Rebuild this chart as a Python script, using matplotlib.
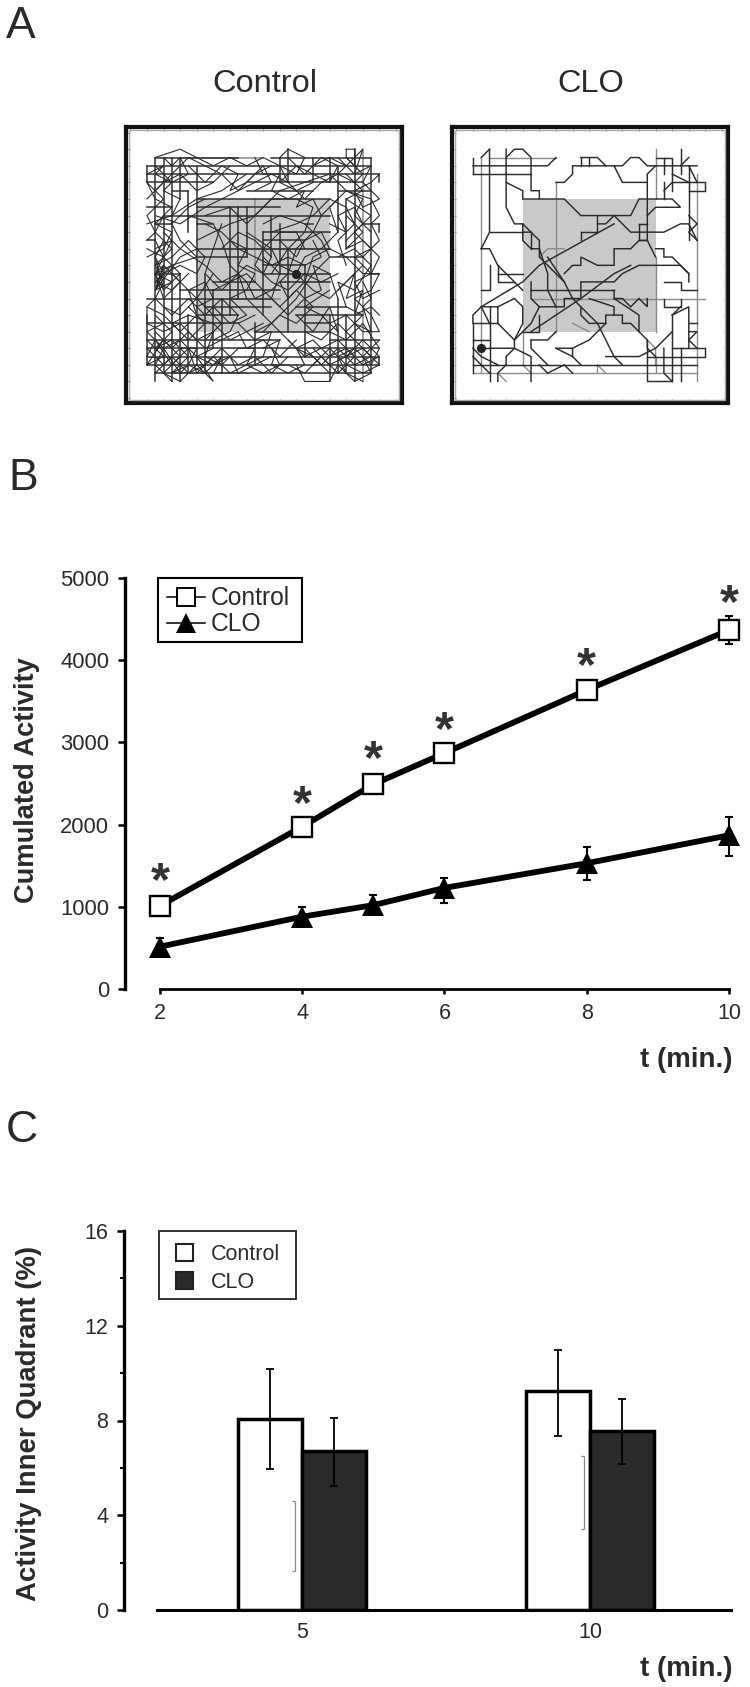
import matplotlib
matplotlib.use("Agg")
import matplotlib.pyplot as plt
from matplotlib.lines import Line2D
from matplotlib.patches import Patch, Rectangle

plt.rcParams['font.family'] = ['Liberation Sans', 'DejaVu Sans']

W, H = 750, 1687
TEXT = '#2a2a2a'

# panel B
times_b = [2, 4, 5, 6, 8, 10]
control_activity = [1013, 1975, 2490, 2870, 3637, 4367]
clo_activity = [515, 880, 1020, 1230, 1530, 1870]
control_err = [40, 50, 60, 70, 70, 170]
clo_err_up = [100, 120, 120, 125, 200, 220]
clo_err_down = [60, 100, 100, 185, 205, 250]
star_heights = [1411, 2348, 2895, 3248, 4027, 4793]

# panel C
groups_c = [0, 1]
group_labels = ['5', '10']
control_inner = [8.06, 9.24]
clo_inner = [6.71, 7.57]
control_inner_low = [5.95, 7.34]
control_inner_high = [10.17, 10.97]
clo_inner_low = [5.23, 6.16]
clo_inner_high = [8.12, 8.90]
stray_x = [-0.024, 0.979]
stray_low = [1.65, 3.43]
stray_high = [4.60, 6.50]

# panel A, tracks on the 29 x 29 floor grid (column, row)
control_dot = (18, 15)
clo_dot = (1, 24)

# straight runs: (row, first column, last column)
control_rows = [
    (1, 1, 11), (1, 15, 27), (2, 0, 27), (3, 0, 28), (4, 0, 8), (4, 12, 26), (5, 3, 5), (5, 12, 20),
    (6, 6, 22), (7, 0, 3), (7, 6, 16), (8, 2, 22), (9, 6, 8), (9, 19, 20), (9, 26, 28), (11, 0, 1),
    (11, 14, 19), (12, 6, 22), (13, 6, 12), (14, 14, 19), (15, 1, 4), (15, 14, 22), (15, 27, 28),
    (16, 8, 13), (17, 4, 16), (18, 0, 15), (19, 7, 15), (20, 6, 11), (21, 0, 11), (21, 19, 22),
    (22, 13, 22), (23, 0, 16), (23, 22, 28), (24, 0, 28), (25, 0, 28), (26, 0, 28), (27, 1, 27),
    (10, 14, 22), (16, 16, 22), (19, 18, 24), (20, 18, 26), (13, 22, 26), (5, 23, 27), (9, 1, 3),
]
control_cols = [
    (1, 1, 28), (2, 1, 27), (3, 1, 28), (4, 1, 6), (4, 15, 28), (5, 5, 10), (5, 20, 27), (6, 2, 26),
    (7, 15, 27), (8, 17, 24), (10, 7, 20), (11, 7, 18), (14, 10, 20), (15, 8, 13), (17, 0, 4),
    (17, 12, 22), (19, 14, 25), (22, 1, 4), (22, 20, 28), (25, 0, 28), (27, 1, 27), (0, 2, 4),
    (0, 20, 26), (28, 3, 4), (28, 9, 10), (28, 25, 26), (9, 18, 27), (12, 7, 13), (16, 1, 4),
    (20, 1, 4), (23, 2, 10), (23, 18, 27), (24, 20, 27), (13, 21, 26), (16, 9, 15), (24, 6, 12),
]
control_gray_rows = [(12, 8, 20), (1, 4, 14), (18, 10, 16), (27, 3, 12)]
control_gray_cols = [(26, 0, 28), (13, 6, 16)]
control_paths = [
    [(1, 1), (4, 0), (6, 1), (8, 2), (10, 1), (12, 2), (14, 1), (16, 2)],
    [(16, 1), (17, 0), (19, 1), (18, 3), (16, 2), (17, 4)],
    [(24, 0), (25, 0), (25, 2), (24, 1), (24, 0)], [(24, 2), (25, 1), (26, 0), (25, 3)],
    [(20, 2), (22, 1), (24, 2), (23, 3), (25, 4), (26, 3), (24, 1)],
    [(0, 4), (2, 6), (0, 8), (1, 10), (0, 11)], [(0, 6), (2, 4), (4, 3), (6, 5), (8, 4), (10, 2)],
    [(1, 5), (3, 3), (5, 1), (7, 2), (9, 3), (11, 5), (13, 4), (15, 3), (17, 4), (19, 6), (21, 4), (23, 3)],
    [(1, 8), (4, 9), (7, 7), (9, 6), (11, 5), (13, 3), (15, 2)], [(0, 9), (3, 8), (6, 6), (9, 5), (12, 3)],
    [(1, 11), (2, 13), (0, 12)], [(2, 8), (1, 10), (3, 12), (1, 14), (2, 16), (1, 18)],
    [(1, 14), (3, 13), (5, 11), (7, 13), (6, 15), (4, 14), (2, 15), (1, 16), (3, 17), (5, 15)],
    [(1, 13), (2, 15), (1, 17), (2, 14), (1, 15), (3, 16), (1, 17), (4, 13), (6, 12)],
    [(2, 10), (4, 12), (7, 14), (9, 16), (11, 15), (12, 18), (14, 20), (16, 22)],
    [(5, 8), (8, 9), (9, 11), (10, 14), (12, 16), (13, 18), (15, 17), (17, 15), (18, 12), (20, 10), (21, 8)],
    [(14, 9), (16, 8), (19, 9), (21, 11), (22, 13), (20, 15), (18, 18), (15, 21), (13, 22)],
    [(15, 10), (18, 9), (20, 8), (22, 6), (24, 7), (25, 9), (23, 11), (24, 14)],
    [(12, 10), (15, 12), (16, 14), (18, 15), (20, 17), (22, 18), (24, 16), (26, 14)],
    [(7, 8), (10, 7), (12, 9), (14, 7), (16, 5), (19, 4), (22, 3), (24, 5), (26, 6), (25, 8), (27, 10)],
    [(18, 15), (19, 13), (21, 12), (23, 10), (22, 7), (24, 5), (27, 6), (28, 8), (27, 9), (28, 11), (26, 13)],
    [(19, 12), (18, 10), (16, 10), (14, 12), (13, 14), (15, 16), (17, 17), (19, 15), (21, 16), (23, 15)],
    [(22, 12), (24, 13), (26, 15), (28, 15), (27, 17), (25, 18), (27, 20), (28, 22), (26, 22), (24, 20), (22, 21)],
    [(23, 17), (25, 15), (24, 18), (26, 17), (25, 20), (27, 19), (28, 20)],
    [(0, 19), (1, 18), (3, 20), (5, 18), (7, 20), (9, 18), (11, 20), (10, 22), (8, 23)],
    [(0, 21), (0, 19), (2, 20), (4, 22), (6, 20), (5, 17), (7, 19), (9, 21), (7, 23)],
    [(1, 22), (3, 24), (5, 22), (7, 24), (9, 23), (11, 22), (12, 24), (14, 23), (16, 25), (18, 23)],
    [(0, 23), (2, 25), (0, 26), (2, 23), (4, 25), (2, 27), (4, 28), (6, 26), (8, 28), (6, 25), (8, 24)],
    [(0, 25), (1, 23), (3, 26), (5, 24), (6, 27), (8, 25), (10, 27), (12, 26), (14, 27), (16, 26), (15, 24)],
    [(1, 27), (3, 25), (5, 27), (7, 26), (9, 24), (11, 26), (13, 25), (15, 27), (17, 25)],
    [(16, 22), (18, 24), (20, 23), (22, 25), (24, 24), (26, 26), (28, 25), (26, 23), (24, 25)],
    [(19, 24), (21, 26), (23, 24), (25, 26), (27, 25), (25, 23), (23, 21), (21, 23), (19, 22)],
    [(18, 26), (19, 28), (22, 28), (23, 26), (25, 28), (27, 27), (26, 25), (28, 23)],
    [(8, 15), (6, 18), (4, 20), (2, 19)], [(13, 20), (11, 21), (13, 23), (15, 22), (14, 25)],
    [(18, 20), (20, 22), (22, 19), (23, 22), (21, 20), (19, 19), (22, 17)],
    [(9, 9), (8, 12), (7, 15), (9, 17), (12, 14), (14, 15), (15, 13), (13, 11), (11, 10), (9, 12)],
    # top band
    [(2, 1), (3, 2), (4, 1), (5, 3), (3, 4), (1, 3), (2, 2), (0, 3)], [(1, 2), (3, 4), (2, 5), (4, 6), (3, 8)],
    [(5, 2), (7, 4), (9, 2), (11, 3), (10, 5), (12, 4), (14, 2), (15, 4), (13, 5)],
    [(17, 1), (19, 3), (21, 1), (23, 2), (22, 4), (20, 3), (18, 2), (16, 4), (18, 5), (20, 4)],
    [(23, 1), (25, 3), (27, 2), (26, 4), (28, 6), (26, 7), (25, 5), (27, 4), (28, 3)],
    [(13, 1), (14, 3), (16, 3), (15, 5), (17, 6), (19, 5), (18, 7), (20, 6), (21, 8), (23, 6)],
    [(24, 3), (26, 5), (24, 6), (27, 8), (25, 10), (27, 12), (25, 13), (27, 15)],
    # left band
    [(0, 4), (1, 6), (3, 7), (1, 9), (3, 10), (2, 12), (0, 13)], [(1, 12), (3, 11), (2, 13), (4, 15), (2, 17)],
    [(1, 16), (3, 14), (1, 15), (2, 18), (4, 16), (2, 14), (1, 17)], [(2, 11), (1, 13), (2, 17), (1, 15), (2, 13)],
    [(3, 14), (6, 13), (4, 11), (3, 9), (5, 7), (7, 6)], [(3, 15), (5, 17), (7, 16), (8, 18), (6, 19)],
    # right band
    [(24, 8), (26, 10), (24, 12), (26, 11), (28, 13), (27, 15), (25, 16), (26, 18), (28, 17)],
    [(23, 13), (25, 12), (27, 14), (25, 17), (23, 16), (24, 19), (26, 20), (24, 22)],
    [(22, 9), (24, 10), (23, 8), (25, 7), (26, 9), (24, 11)], [(26, 16), (27, 18), (26, 19), (27, 22), (25, 21)],
    # centre
    [(6, 11), (8, 10), (10, 9), (13, 8), (15, 6), (18, 6), (20, 7), (19, 10), (17, 12), (15, 15)],
    [(7, 9), (9, 10), (11, 12), (13, 13), (15, 14), (17, 13), (19, 14), (21, 13), (20, 11)],
    [(8, 17), (10, 16), (12, 15), (14, 17), (16, 19), (18, 17), (20, 19), (18, 21), (16, 20), (14, 22)],
    [(14, 13), (16, 15), (15, 18), (17, 20), (19, 18), (21, 17), (20, 14), (22, 15), (23, 18)],
    [(16, 11), (18, 13), (19, 11), (21, 10), (22, 12), (20, 13), (19, 16), (17, 18), (16, 16)],
    [(10, 11), (12, 12), (11, 14), (13, 15), (12, 17), (10, 18), (12, 20), (10, 21), (8, 19)],
    # bottom band
    [(0, 21), (2, 22), (4, 21), (6, 23), (8, 22), (7, 25), (9, 26), (11, 24), (13, 24), (12, 26), (14, 25)],
    [(1, 20), (3, 22), (1, 24), (3, 23), (5, 25), (3, 27), (5, 26), (7, 27), (9, 25), (8, 27)],
    [(0, 24), (2, 26), (4, 24), (6, 24), (5, 26), (4, 27), (2, 24), (1, 26), (3, 28)],
    [(2, 21), (0, 22), (2, 24), (4, 23), (6, 25), (8, 26), (10, 25), (11, 27), (13, 26), (15, 25)],
    [(17, 23), (19, 25), (21, 24), (23, 23), (25, 25), (23, 27), (21, 25), (19, 27), (17, 26), (15, 26)],
    [(20, 24), (22, 26), (24, 25), (26, 24), (28, 26), (26, 27), (24, 26), (22, 24), (20, 26)],
    [(22, 22), (24, 23), (26, 21), (28, 24), (27, 26), (25, 24), (23, 25), (24, 27), (26, 28)],
    [(14, 24), (16, 23), (15, 26), (17, 27), (19, 26), (18, 24), (20, 25), (22, 27)],
    [(5, 19), (7, 21), (5, 23), (3, 21), (5, 20), (8, 21), (10, 23), (12, 22), (14, 21)],
]

clo_paths = [
    [(0, 1), (0, 3)], [(0, 2), (9, 2), (10, 1)], [(0, 3), (7, 3)],
    [(2, 0), (2, 10), (1, 12)], [(1, 1), (2, 0)],
    [(4, 0), (4, 7), (5, 9), (6, 9), (6, 10), (7, 10)],
    [(4, 4), (6, 5), (6, 6), (11, 6), (13, 8), (19, 8), (20, 6), (24, 6), (25, 7), (22, 7), (21, 8)],
    [(4, 1), (5, 0), (6, 0), (7, 1), (7, 5), (8, 5), (8, 6)],
    [(13, 1), (15, 1), (16, 2)], [(13, 1), (13, 2)], [(14, 1), (14, 2)],
    [(10, 4), (11, 4), (12, 3), (12, 2), (17, 2), (18, 4), (21, 4)],
    [(17, 2), (18, 2), (19, 1), (20, 1), (21, 2), (27, 2)],
    [(21, 11), (21, 3), (22, 2)], [(20, 9), (21, 9)], [(20, 9), (20, 11), (21, 11)],
    [(22, 1), (24, 1), (24, 5)], [(23, 1), (23, 3)], [(23, 4), (23, 6)], [(23, 5), (24, 4)],
    [(24, 4), (28, 4), (28, 5), (26, 5)], [(25, 0), (25, 3)], [(25, 2), (26, 1)],
    [(26, 2), (26, 11)], [(26, 2), (27, 4)], [(24, 3), (26, 4)], [(26, 8), (27, 9), (26, 10), (27, 11)],
    [(20, 10), (23, 10), (25, 9), (26, 9), (27, 11)], [(17, 8), (19, 10), (20, 10)],
    [(15, 8), (15, 10)], [(15, 9), (16, 9), (17, 8)], [(13, 10), (15, 10)], [(13, 10), (13, 11)],
    [(17, 9), (8, 14), (6, 16), (1, 19)],
    [(2, 10), (6, 10)], [(6, 9), (8, 11), (8, 13), (10, 15), (11, 16)],
    [(6, 10), (6, 11), (7, 12), (8, 12)], [(7, 10), (7, 12)],
    [(1, 12), (2, 12), (3, 14), (5, 16), (6, 17)], [(3, 14), (3, 16), (5, 16)], [(3, 15), (6, 15)],
    [(2, 14), (2, 17), (1, 17)],
    [(7, 16), (7, 18), (8, 19)], [(7, 17), (17, 17)],
    [(8, 19), (11, 19), (11, 18), (13, 18), (13, 16), (17, 16), (18, 15), (20, 14), (25, 14), (26, 15), (26, 16)],
    [(11, 15), (12, 14), (13, 14), (13, 13), (15, 14), (17, 14), (17, 12), (19, 12), (20, 11), (21, 11), (22, 13)],
    [(8, 12), (9, 15), (9, 17), (10, 19)], [(9, 13), (11, 16), (12, 18), (13, 19), (15, 21), (17, 25), (18, 26)],
    [(17, 17), (17, 18), (18, 18), (19, 19), (20, 18), (21, 19), (21, 18)],
    [(17, 18), (20, 20), (20, 22), (21, 23), (21, 24), (22, 25)],
    [(14, 18), (17, 19), (17, 20), (16, 20), (16, 21), (14, 21), (13, 20), (13, 19)],
    [(17, 20), (18, 20), (18, 21), (19, 21), (20, 22)],
    [(7, 22), (13, 18), (17, 15), (19, 14)],
    [(22, 12), (23, 12), (23, 13), (24, 13), (26, 15)], [(23, 16), (25, 16), (25, 17), (27, 17)],
    [(23, 18), (23, 19), (25, 19), (25, 18)], [(25, 19), (24, 20)],
    [(0, 21), (0, 27)], [(0, 21), (3, 21)], [(0, 23), (2, 23)], [(2, 19), (2, 28)], [(0, 21), (0, 20), (1, 19), (2, 21)],
    [(0, 26), (27, 26)], [(3, 19), (3, 21), (5, 23), (5, 24), (2, 24)], [(1, 24), (2, 24)],
    [(1, 19), (3, 19), (5, 18), (6, 19), (6, 21), (5, 23)], [(5, 23), (7, 21), (8, 19)],
    [(6, 22), (8, 22), (8, 20)], [(7, 23), (9, 23), (10, 22)], [(7, 23), (7, 24), (9, 26)],
    [(4, 26), (4, 25), (5, 24), (7, 25), (7, 28)], [(3, 28), (3, 27), (4, 26)],
    [(10, 24), (12, 24), (12, 25), (13, 26)], [(10, 24), (12, 25)], [(12, 24), (14, 23), (16, 21)],
    [(16, 25), (20, 25), (22, 24), (24, 22)], [(21, 23), (21, 28), (24, 28), (24, 20)],
    [(23, 24), (23, 27), (24, 28)], [(25, 24), (25, 28)], [(24, 20), (26, 19), (26, 24)],
    [(26, 21), (27, 21)], [(26, 22), (27, 22), (26, 23), (27, 24)], [(24, 24), (28, 24), (28, 25), (21, 25)],
    [(0, 25), (2, 27)], [(0, 24), (1, 25), (3, 26)], [(8, 26), (9, 27), (11, 26), (12, 27)],
]
clo_gray_paths = [
    [(1, 1), (1, 27)], [(2, 1), (10, 1)], [(10, 4), (10, 22)], [(22, 0), (22, 6)], [(22, 13), (22, 22)],
    [(27, 3), (27, 28)], [(7, 18), (28, 18)], [(0, 27), (27, 27)], [(6, 22), (6, 26)],
    [(8, 13), (9, 12), (11, 12)], [(18, 18), (21, 18)], [(22, 25), (22, 27)], [(12, 21), (14, 22)],
    [(21, 23), (22, 24), (22, 26)], [(6, 26), (7, 27)], [(3, 27), (4, 28)], [(15, 27), (15, 26), (16, 27)],
]

# floor frame ticks
frame_ticks = [-2, 0, 2, 4, 6, 8, 10, 12, 14, 16, 18, 20, 22, 24, 26, 28, 30]

fig = plt.figure(figsize=(W / 100, H / 100), dpi=100, facecolor='white')


def px_axes(left, top, right, bottom):
    return fig.add_axes([left / W, 1 - bottom / H, (right - left) / W, (bottom - top) / H])


def legend_box(left, top, right, bottom, edge, lw):
    fig.add_artist(Rectangle((left / W, 1 - bottom / H), (right - left) / W, (bottom - top) / H,
                             transform=fig.transFigure, fc='none', ec=edge, lw=lw))


def draw_floor(ax, paths, gray_paths, dot, rows=(), cols=(), gray_rows=(), gray_cols=(), path_lw=1.05):
    ax.set_xlim(-2.52, 30.72)
    ax.set_ylim(30.6, -2.68)
    ax.add_patch(Rectangle((6, 6), 16, 16, fc='#c9c9c9', ec='none', zorder=1))
    for row, a, b in rows:
        ax.plot([a, b], [row, row], color='#303030', lw=1.1, zorder=3)
    for col, a, b in cols:
        ax.plot([col, col], [a, b], color='#303030', lw=1.1, zorder=3)
    for row, a, b in gray_rows:
        ax.plot([a, b], [row, row], color='#8a8a8a', lw=1.1, zorder=2)
    for col, a, b in gray_cols:
        ax.plot([col, col], [a, b], color='#8a8a8a', lw=1.1, zorder=2)
    for path in gray_paths:
        ax.plot([p[0] for p in path], [p[1] for p in path], color='#8a8a8a', lw=1.0, zorder=2)
    for path in paths:
        ax.plot([p[0] for p in path], [p[1] for p in path], color='#2b2b2b', lw=path_lw, zorder=3,
                solid_joinstyle='miter')
    ax.plot(dot[0], dot[1], 'o', color='#222222', ms=6.6, mew=0, zorder=4)
    ax.set_xticks(frame_ticks)
    ax.set_yticks(frame_ticks)
    ax.set_xticklabels([])
    ax.set_yticklabels([])
    ax.tick_params(direction='in', length=3, width=0.7, color='#8a8a8a',
                   top=True, right=True, left=True, bottom=True)
    for side in ax.spines:
        ax.spines[side].set_linewidth(3.0)
        ax.spines[side].set_color('#111111')
    inner = Rectangle((0.012, 0.012), 0.976, 0.976, transform=ax.transAxes, fc='none', ec='#a8a8a8', lw=1.0,
                      zorder=5)
    ax.add_patch(inner)


# panel A
ax_ctrl = px_axes(126, 127, 402, 403)
draw_floor(ax_ctrl, control_paths, [], control_dot, control_rows, control_cols,
           control_gray_rows, control_gray_cols, path_lw=0.8)
ax_clo = px_axes(452, 127, 728, 403)
draw_floor(ax_clo, clo_paths, clo_gray_paths, clo_dot)
fig.text(265 / W, 1 - 84 / H, 'Control', fontsize=23.4, color=TEXT, ha='center', va='center')
fig.text(591 / W, 1 - 84 / H, 'CLO', fontsize=23.4, color=TEXT, ha='center', va='center')

fig.text(6 / W, 1 - 38 / H, 'A', fontsize=32, color=TEXT, ha='left', va='baseline')
fig.text(8 / W, 1 - 490 / H, 'B', fontsize=32, color=TEXT, ha='left', va='baseline')
fig.text(6 / W, 1 - 1142 / H, 'C', fontsize=32, color=TEXT, ha='left', va='baseline')

# panel B
ax_b = px_axes(125, 578, 729, 989)
ax_b.set_xlim(1.508, 10)
ax_b.set_ylim(0, 5000)
ax_b.errorbar(times_b, clo_activity, yerr=[clo_err_down, clo_err_up], fmt='none', ecolor='black',
              elinewidth=1.5, capsize=2.8, capthick=1.5, zorder=2, clip_on=False)
ax_b.errorbar(times_b, control_activity, yerr=control_err, fmt='none', ecolor='black',
              elinewidth=1.5, capsize=2.8, capthick=1.5, zorder=2, clip_on=False)
ax_b.plot(times_b, control_activity, '-', color='black', lw=4.2, zorder=3, clip_on=False)
ax_b.plot(times_b, control_activity, 's', mfc='white', mec='black', mew=1.7, ms=14.5, zorder=4, clip_on=False)
ax_b.plot(times_b, clo_activity, '-', color='black', lw=4.2, zorder=3, clip_on=False)
ax_b.plot(times_b, clo_activity, '^', color='black', mew=0, ms=16.5, zorder=4, clip_on=False)
for t, h in zip(times_b, star_heights):
    ax_b.annotate('*', (t, h), xytext=(0, -16), textcoords='offset points', ha='center', va='baseline',
                  fontsize=35, fontweight='bold', color='#333333', annotation_clip=False)
ax_b.set_xticks([2, 4, 6, 8, 10])
ax_b.set_yticks([0, 1000, 2000, 3000, 4000, 5000])
ax_b.tick_params(axis='y', length=5, width=1.8, pad=6.5, labelsize=15.8, labelcolor=TEXT)
ax_b.tick_params(axis='x', length=3.5, width=1.8, pad=6.5, labelsize=15.5, labelcolor=TEXT)
ax_b.spines['top'].set_visible(False)
ax_b.spines['right'].set_visible(False)
ax_b.spines['left'].set_linewidth(2.4)
ax_b.spines['bottom'].set_linewidth(2.0)
ax_b.spines['bottom'].set_bounds(2, 10)
fig.text(27 / W, 1 - 780 / H, 'Cumulated Activity', fontsize=19.6, fontweight='bold', color=TEXT,
         rotation=90, ha='center', va='center')
fig.text(732 / W, 1 - 1060 / H, 't (min.)', fontsize=20, fontweight='bold', color=TEXT, ha='right', va='center')
leg_b = ax_b.legend(
    handles=[Line2D([], [], color='black', lw=1.1, marker='s', mfc='white', mec='black', mew=1.4, ms=13),
             Line2D([], [], color='black', lw=1.1, marker='^', mfc='black', mew=0, ms=15)],
    labels=['Control', 'CLO'], loc='upper left', bbox_to_anchor=(160 / W, 1 - 579 / H),
    bbox_transform=fig.transFigure, borderaxespad=0, fontsize=17.7, frameon=False,
    handlelength=1.55, handletextpad=0.2, labelspacing=0.08, borderpad=0.3, labelcolor=TEXT)
legend_box(158, 578, 302, 642, 'black', 1.5)

# panel C
bar_w = 0.222
ax_c = px_axes(124, 1231, 732, 1610)
ax_c.set_xlim(-0.618, 1.493)
ax_c.set_ylim(0, 16)
x_ctrl = [g - bar_w / 2 for g in groups_c]
x_clo = [g + bar_w / 2 for g in groups_c]
ax_c.bar(x_ctrl, control_inner, bar_w, color='white', edgecolor='black', linewidth=2.5, zorder=2)
ax_c.bar(x_clo, clo_inner, bar_w, color='#2a2a2a', edgecolor='black', linewidth=2.5, zorder=2)
ax_c.errorbar(x_ctrl, control_inner,
              yerr=[[v - l for v, l in zip(control_inner, control_inner_low)],
                    [h - v for v, h in zip(control_inner, control_inner_high)]],
              fmt='none', ecolor='black', elinewidth=1.3, capsize=3, capthick=1.3, zorder=3)
ax_c.errorbar(x_clo, clo_inner,
              yerr=[[v - l for v, l in zip(clo_inner, clo_inner_low)],
                    [h - v for v, h in zip(clo_inner, clo_inner_high)]],
              fmt='none', ecolor='black', elinewidth=1.3, capsize=3, capthick=1.3, zorder=3)
ax_c.vlines(stray_x, stray_low, stray_high, color='#8a8a8a', lw=0.9, zorder=3)
for x, lo, hi in zip(stray_x, stray_low, stray_high):
    ax_c.hlines([lo, hi], x - 0.012, x, color='#8a8a8a', lw=0.9, zorder=3)
ax_c.set_xticks(groups_c)
ax_c.set_xticklabels(group_labels)
ax_c.set_yticks([0, 4, 8, 12, 16])
ax_c.set_yticks([2, 6, 10, 14], minor=True)
ax_c.tick_params(axis='y', length=5, width=1.8, pad=6.5, labelsize=15.5, labelcolor=TEXT)
ax_c.tick_params(axis='y', which='minor', length=3.2, width=1.4)
ax_c.tick_params(axis='x', length=0, pad=9, labelsize=15.5, labelcolor=TEXT)
ax_c.spines['top'].set_visible(False)
ax_c.spines['right'].set_visible(False)
ax_c.spines['left'].set_linewidth(2.4)
ax_c.spines['bottom'].set_linewidth(2.2)
ax_c.spines['bottom'].set_bounds(-0.503, 1.49)
fig.text(29 / W, 1 - 1423 / H, 'Activity Inner Quadrant (%)', fontsize=19.8, fontweight='bold', color=TEXT,
         rotation=90, ha='center', va='center')
fig.text(732 / W, 1 - 1669 / H, 't (min.)', fontsize=20, fontweight='bold', color=TEXT, ha='right', va='center')
ax_c.legend(
    handles=[Patch(fc='white', ec='#222222', lw=1.5), Patch(fc='#2a2a2a', ec='#222222', lw=1.5)],
    labels=['Control', 'CLO'], loc='upper left', bbox_to_anchor=(161 / W, 1 - 1229 / H),
    bbox_transform=fig.transFigure, borderaxespad=0, fontsize=15.5, frameon=False,
    handlelength=0.8, handleheight=0.85, handletextpad=0.8, labelspacing=0.3, borderpad=0.7, labelcolor=TEXT)
legend_box(159, 1231, 296, 1299, '#333333', 1.4)

fig.savefig('out.png', dpi=100)
plt.close(fig)
